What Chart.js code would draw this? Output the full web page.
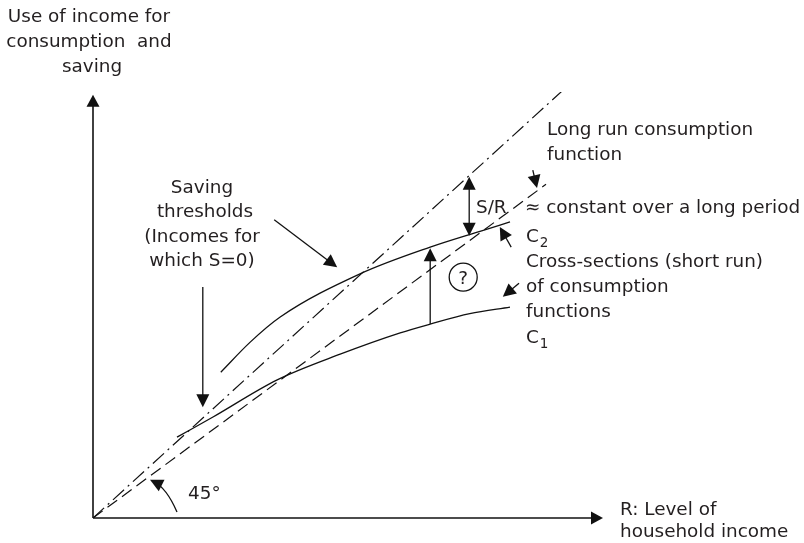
<!DOCTYPE html>
<html>
<head>
<meta charset="utf-8">
<script src="https://cdn.jsdelivr.net/npm/chart.js@4/dist/chart.umd.min.js"></script>
<style>
  html, body { margin: 0; padding: 0; background: #ffffff; }
  canvas { display: block; }
</style>
</head>
<body>
<canvas id="c" width="804" height="543"></canvas>
<script>
// ---- data (R = household income, C = use of income) ----
const incomeRange = [0, 85];
const useRange = [0, 78];

const line45R = [0, 80];
const line45C = [0, 80];

const longRunR = [0, 75.5];
const longRunC = [0, 61.1];

const c1R = [14.0, 20.0, 30.7, 41.2, 51.2, 56.2, 62.8, 69.5];
const c1C = [14.8, 18.5, 25.3, 30.0, 33.9, 35.5, 37.4, 38.6];

const c2R = [21.3, 26.2, 31.2, 44.5, 56.2, 64.5, 69.5];
const c2C = [26.7, 32.2, 36.8, 44.7, 49.6, 52.5, 54.2];

const toPoints = (xs, ys) => xs.map((x, i) => ({ x: x, y: ys[i] }));

// ---- annotation geometry (in data units) ----
const gapArrowR = 56.2;            // arrow from C1 up to C2
const gapArrowC = [35.5, 49.4];
const srArrowR = 62.7;             // S/R double arrow
const srArrowC = [51.7, 62.5];
const pointers = [                 // [fromR, fromC, toR, toC]
  [30.2, 54.6, 40.7, 45.9],
  [18.3, 42.3, 18.3, 20.3],
  [73.3, 63.7, 74.0, 60.4],
  [69.7, 49.6, 67.8, 53.3],
  [71.0, 43.0, 68.3, 40.5]
];
const questionAt = [61.7, 44.1];

const INK = '#111111';
const TEXT = '#231f20';
const FONT = '18.4px "DejaVu Sans", sans-serif';

function arrowHead(ctx, x1, y1, x2, y2, len, half) {
  const a = Math.atan2(y2 - y1, x2 - x1);
  ctx.beginPath();
  ctx.moveTo(x2, y2);
  ctx.lineTo(x2 - len * Math.cos(a) + half * Math.sin(a), y2 - len * Math.sin(a) - half * Math.cos(a));
  ctx.lineTo(x2 - len * Math.cos(a) - half * Math.sin(a), y2 - len * Math.sin(a) + half * Math.cos(a));
  ctx.closePath();
  ctx.fill();
}
function arrow(ctx, x1, y1, x2, y2, len, half) {
  const a = Math.atan2(y2 - y1, x2 - x1);
  ctx.beginPath();
  ctx.moveTo(x1, y1);
  ctx.lineTo(x2 - (len - 2) * Math.cos(a), y2 - (len - 2) * Math.sin(a));
  ctx.stroke();
  arrowHead(ctx, x1, y1, x2, y2, len, half);
}

const diagram = {
  id: 'diagram',
  afterDraw(chart) {
    const ctx = chart.ctx;
    const X = v => chart.scales.x.getPixelForValue(v);
    const Y = v => chart.scales.y.getPixelForValue(v);
    ctx.save();
    ctx.strokeStyle = INK;
    ctx.fillStyle = INK;
    ctx.setLineDash([]);

    // axes
    ctx.lineWidth = 1.6;
    arrow(ctx, X(0), Y(0), X(0), Y(77.5), 12, 6.5);
    arrow(ctx, X(0), Y(0), X(incomeRange[1]), Y(0), 12, 6.5);

    ctx.lineWidth = 1.3;
    // C1 -> C2 gap arrow
    arrow(ctx, X(gapArrowR), Y(gapArrowC[0]), X(gapArrowR), Y(gapArrowC[1]), 13, 6.5);
    // S/R double arrow
    const sx = X(srArrowR), sy1 = Y(srArrowC[0]), sy2 = Y(srArrowC[1]);
    ctx.beginPath(); ctx.moveTo(sx, sy1 - 11); ctx.lineTo(sx, sy2 + 11); ctx.stroke();
    arrowHead(ctx, sx, sy2, sx, sy1, 13, 6.5);
    arrowHead(ctx, sx, sy1, sx, sy2, 13, 6.5);
    // pointers
    pointers.forEach(p => arrow(ctx, X(p[0]), Y(p[1]), X(p[2]), Y(p[3]), 13, 6.5));

    // 45 degree arc arrow
    const p0 = [X(14.0), Y(1.1)], cp = [X(12.25), Y(5.5)], p2 = [X(9.5), Y(7.0)];
    ctx.beginPath();
    ctx.moveTo(p0[0], p0[1]);
    ctx.quadraticCurveTo(cp[0], cp[1], p2[0] + 4, p2[1] + 2);
    ctx.stroke();
    arrowHead(ctx, cp[0], cp[1], p2[0], p2[1], 13, 6.5);

    // circled question mark
    ctx.beginPath();
    ctx.arc(X(questionAt[0]), Y(questionAt[1]), 14, 0, Math.PI * 2);
    ctx.stroke();

    // texts
    ctx.fillStyle = TEXT;
    ctx.font = FONT;
    ctx.textBaseline = 'alphabetic';
    ctx.textAlign = 'center';
    ctx.fillText('Use of income for', 89, 22);
    ctx.fillText('consumption  and', 89, 47);
    ctx.fillText('saving', 92, 72);
    ctx.fillText('Saving', 202, 193);
    ctx.fillText('thresholds', 205, 217);
    ctx.fillText('(Incomes for', 202, 242);
    ctx.fillText('which S=0)', 202, 266);
    ctx.fillText('?', X(questionAt[0]), Y(questionAt[1]) + 7);

    ctx.textAlign = 'left';
    ctx.fillText('Long run consumption', 547, 135);
    ctx.fillText('function', 547, 160);
    ctx.fillText('S/R', 476, 213);
    ctx.fillText('\u2248 constant over a long period', 525, 213);
    ctx.fillText('C', 526, 242);
    ctx.fillText('Cross-sections (short run)', 526, 267);
    ctx.fillText('of consumption', 526, 292);
    ctx.fillText('functions', 526, 317);
    ctx.fillText('C', 526, 343);
    ctx.fillText('45\u00b0', 188, 499);
    ctx.fillText('R: Level of', 620, 515);
    ctx.fillText('household income', 620, 537);
    const cw = ctx.measureText('C').width;
    ctx.font = '13.5px "DejaVu Sans", sans-serif';
    ctx.fillText('2', 526 + cw + 1, 247);
    ctx.fillText('1', 526 + cw + 1, 348);
    ctx.restore();
  }
};

new Chart(document.getElementById('c'), {
  type: 'scatter',
  data: {
    datasets: [
      { label: '45°', data: toPoints(line45R, line45C), showLine: true, borderColor: INK, borderWidth: 1.2,
        borderDash: [15, 5, 2, 5], pointRadius: 0, fill: false },
      { label: 'Long run', data: toPoints(longRunR, longRunC), showLine: true, borderColor: INK, borderWidth: 1.2,
        borderDash: [12, 6], pointRadius: 0, fill: false },
      { label: 'C1', data: toPoints(c1R, c1C), showLine: true, borderColor: INK, borderWidth: 1.3,
        cubicInterpolationMode: 'monotone', pointRadius: 0, fill: false },
      { label: 'C2', data: toPoints(c2R, c2C), showLine: true, borderColor: INK, borderWidth: 1.3,
        cubicInterpolationMode: 'monotone', pointRadius: 0, fill: false }
    ]
  },
  options: {
    responsive: false,
    animation: false,
    devicePixelRatio: 1,
    layout: { padding: { left: 93, right: 201, top: 92, bottom: 25 } },
    scales: {
      x: { type: 'linear', min: incomeRange[0], max: incomeRange[1], display: false },
      y: { type: 'linear', min: useRange[0], max: useRange[1], display: false }
    },
    plugins: { legend: { display: false }, tooltip: { enabled: false } },
    events: []
  },
  plugins: [diagram]
});
</script>
</body>
</html>
